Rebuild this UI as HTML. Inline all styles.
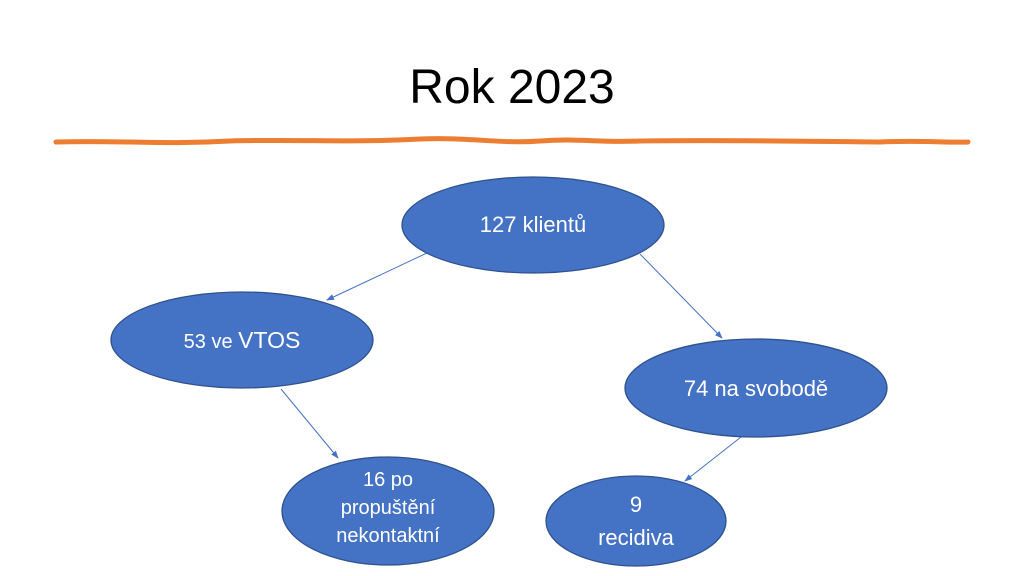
<!DOCTYPE html>
<html><head><meta charset="utf-8"><style>
html,body{margin:0;padding:0;background:#fff;width:1024px;height:576px;overflow:hidden}
</style></head><body>
<svg width="1024" height="576" xmlns="http://www.w3.org/2000/svg" style="position:absolute;left:0;top:0">
<defs><marker id="a" markerWidth="8" markerHeight="8" refX="7" refY="4" orient="auto" markerUnits="userSpaceOnUse"><path d="M0,1 L8,4 L0,7z" fill="#4472C4"/></marker></defs>
<text x="512" y="103" text-anchor="middle" font-family="Liberation Sans, sans-serif" font-size="48" fill="#000">Rok 2023</text>
<path d="M56,142 C120,140 160,145 230,141 C300,139 350,143 420,139 C470,137 500,144 540,141 C580,138 600,143 640,141 C720,140 800,141 880,142 C920,140 950,143 968,142" stroke="#ED7D31" stroke-width="5" fill="none" stroke-linecap="round"/>
<g stroke="#4472C4" stroke-width="1" marker-end="url(#a)">
<line x1="427" y1="253" x2="327" y2="300"/>
<line x1="640" y1="254" x2="722" y2="338"/>
<line x1="281" y1="389" x2="338" y2="458"/>
<line x1="741" y1="437" x2="685" y2="481"/>
</g>
<g fill="#4472C4" stroke="#2F528F" stroke-width="1.3">
<ellipse cx="533" cy="225" rx="131" ry="48"/>
<ellipse cx="242" cy="340" rx="131" ry="48"/>
<ellipse cx="756" cy="388" rx="131" ry="49"/>
<ellipse cx="388" cy="511" rx="106" ry="54"/>
<ellipse cx="636" cy="521" rx="90" ry="45"/>
</g>
<g fill="#fff" font-family="Liberation Sans, sans-serif" text-anchor="middle">
<text x="533" y="232" font-size="22">127 klientů</text>
<text x="242" y="348" font-size="20">53 ve <tspan font-size="23">VTOS</tspan></text>
<text x="756" y="396" font-size="22">74 na svobodě</text>
<text x="388" y="486" font-size="20">16 po</text>
<text x="388" y="514" font-size="20">propuštění</text>
<text x="388" y="542" font-size="20">nekontaktní</text>
<text x="636" y="512" font-size="22">9</text>
<text x="636" y="545" font-size="22">recidiva</text>
</g>
</svg>
</body></html>
